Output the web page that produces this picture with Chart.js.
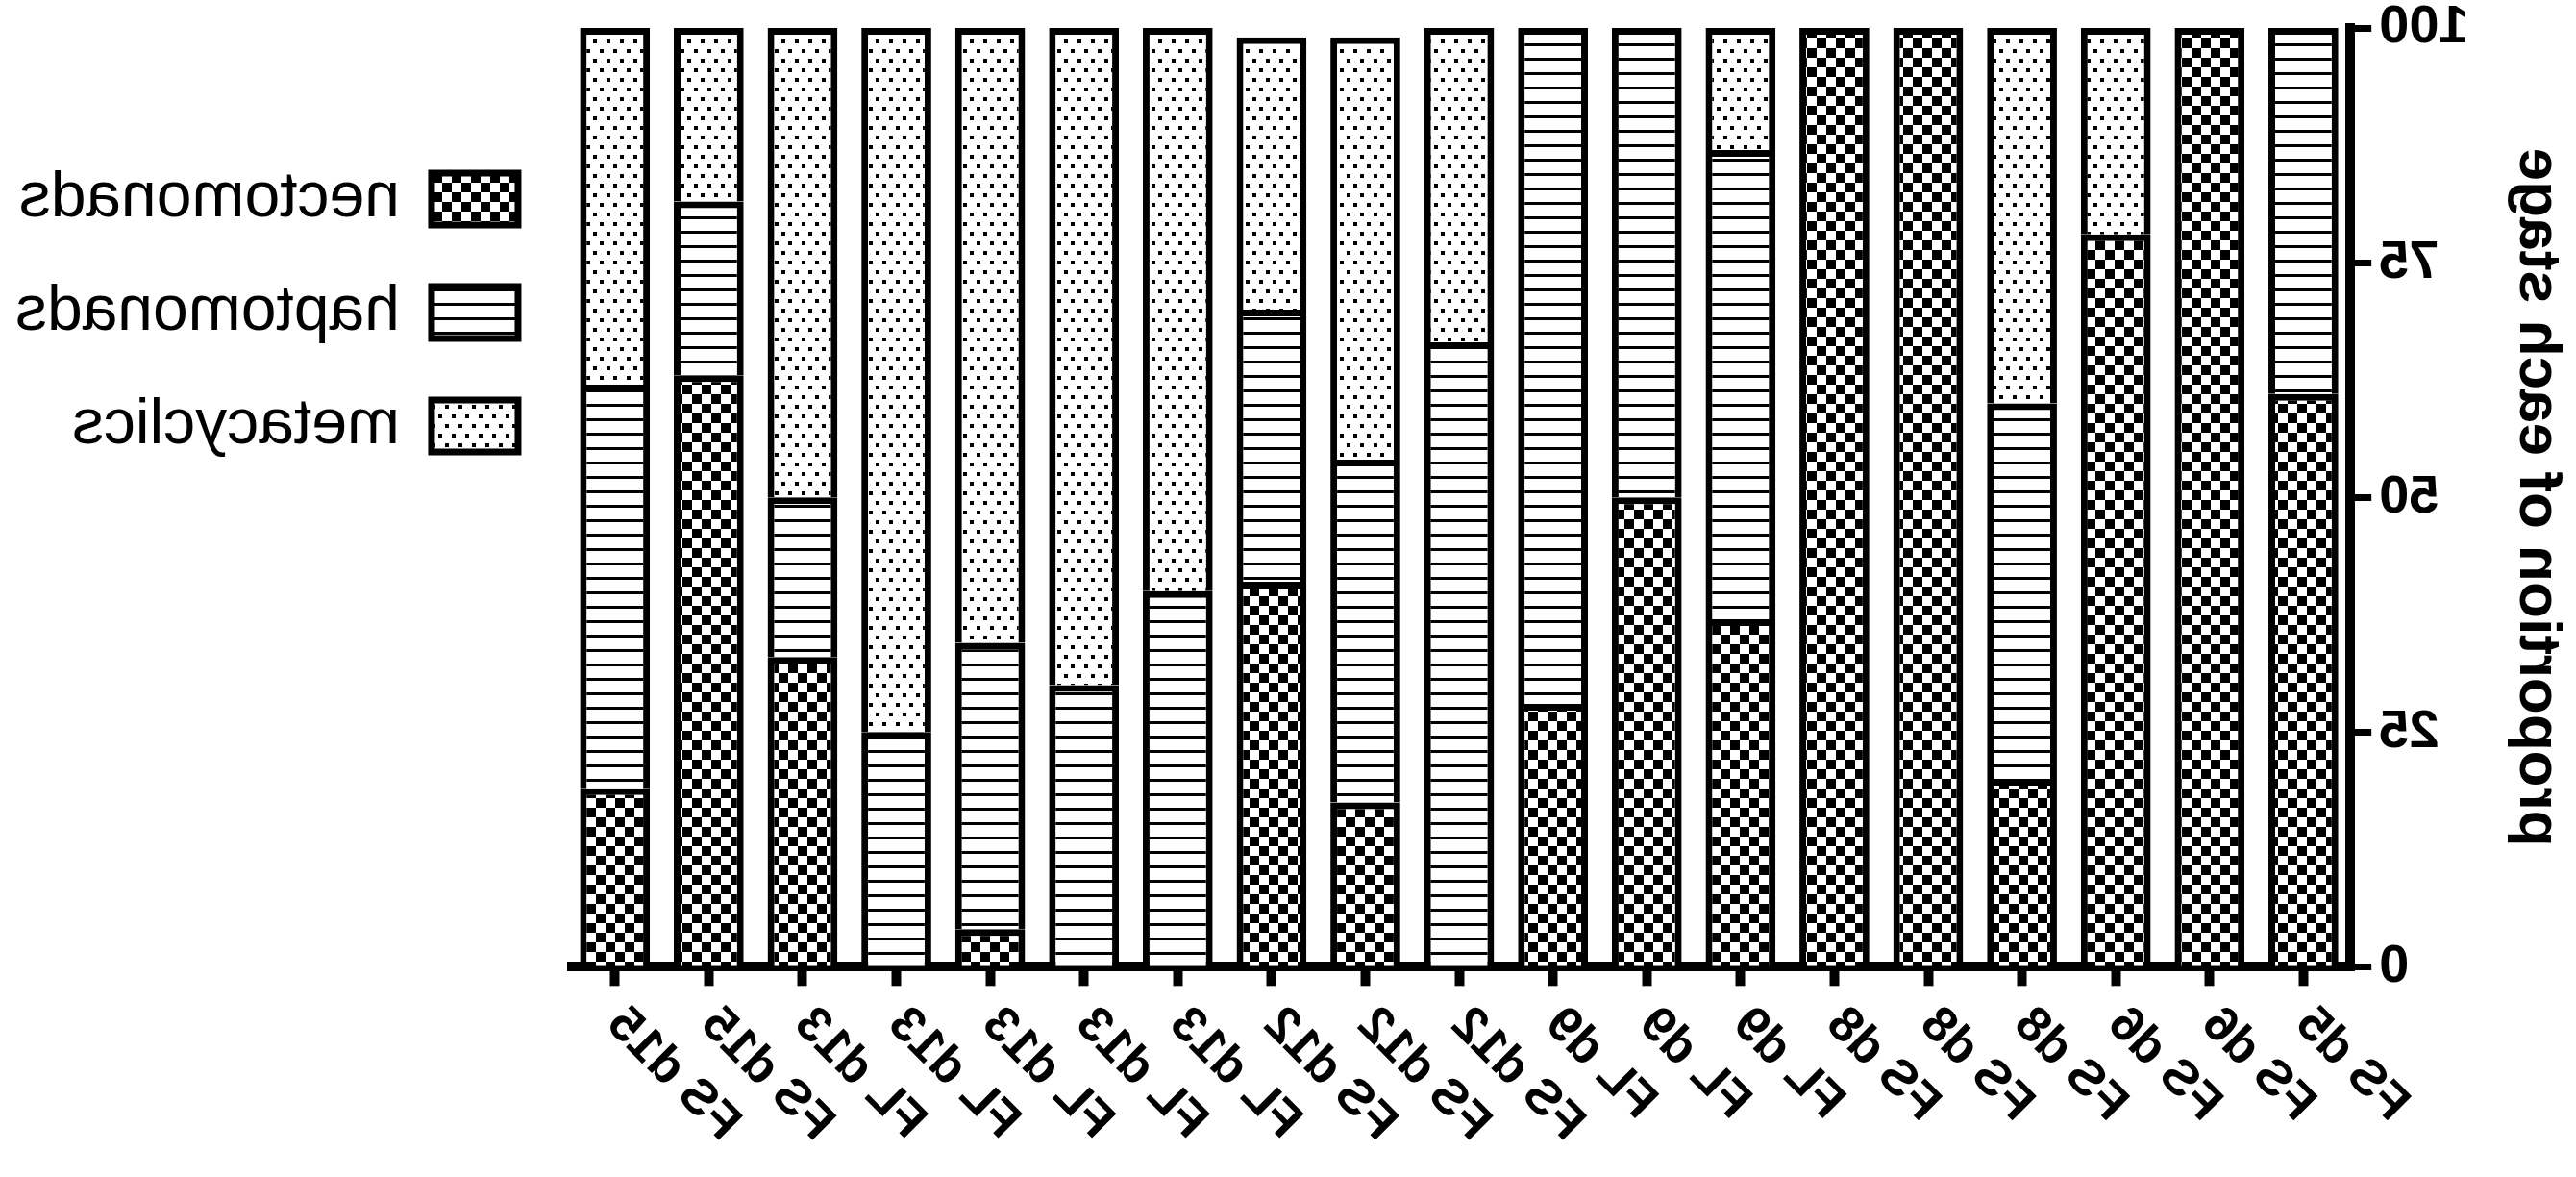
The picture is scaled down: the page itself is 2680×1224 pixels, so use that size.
<!DOCTYPE html>
<html>
<head>
<meta charset="utf-8">
<script src="https://cdn.jsdelivr.net/npm/chart.js@4.4.1/dist/chart.umd.min.js"></script>
<style>
  html, body { margin: 0; padding: 0; background: #fff; }
  #wrap { width: 2680px; height: 1224px; }
  /* the figure is a mirror image */
  #stageChart { transform: scaleX(-1); }
</style>
</head>
<body>
<div id="wrap"><canvas id="stageChart"></canvas></div>
<script>
var categories = ["FS d5", "FS d6", "FS d6", "FS d8", "FS d8", "FS d8", "FL d9", "FL d9", "FL d9",
                  "FS d12", "FS d12", "FS d12", "FL d13", "FL d13", "FL d13", "FL d13", "FL d13",
                  "FS d15", "FS d15"];
var nectomonads = [61, 100, 78, 20, 100, 100, 37, 50, 28, 0, 17.5, 41, 0, 0, 4, 0, 33, 63, 19];
var haptomonads = [39, 0, 0, 40, 0, 0, 50, 50, 72, 66.5, 36.5, 29, 40, 30, 30.5, 25, 17, 18.5, 43];
var metacyclics = [0, 0, 22, 40, 0, 0, 13, 0, 0, 33.5, 45, 29, 60, 70, 65.5, 75, 50, 18.5, 38];
var yTicks = [0, 25, 50, 75, 100];

var FONT = "'Liberation Sans', Arial, Helvetica, sans-serif";

// black and white fill patterns
function makePattern(kind) {
    var c = document.createElement('canvas');
    var g = c.getContext('2d');
    if (kind === 'checker') {
        c.width = 20; c.height = 20;
        g.fillStyle = '#fff'; g.fillRect(0, 0, 20, 20);
        g.fillStyle = '#000'; g.fillRect(0, 0, 10, 10); g.fillRect(10, 10, 10, 10);
    } else if (kind === 'lines') {
        c.width = 16; c.height = 15;
        g.fillStyle = '#fff'; g.fillRect(0, 0, 16, 15);
        g.fillStyle = '#000'; g.fillRect(0, 0, 16, 3);
    } else {
        c.width = 14; c.height = 20;
        g.fillStyle = '#fff'; g.fillRect(0, 0, 14, 20);
        g.fillStyle = '#000'; g.fillRect(1, 1, 4, 4); g.fillRect(8, 11, 4, 4);
    }
    return g.createPattern(c, 'repeat');
}

var barStyle = {
    borderColor: '#000',
    borderWidth: {top: 7, left: 7, right: 7, bottom: 0},
    borderSkipped: false,
    barPercentage: 0.745,
    categoryPercentage: 1.0
};

var ctx = document.getElementById("stageChart").getContext('2d');
var stageChart = new Chart(ctx, {
    type: 'bar',
    data: {
        labels: categories,
        datasets: [
            Object.assign({label: "nectomonads", data: nectomonads, backgroundColor: makePattern('checker')}, barStyle),
            Object.assign({label: "haptomonads", data: haptomonads, backgroundColor: makePattern('lines')}, barStyle),
            Object.assign({label: "metacyclics", data: metacyclics, backgroundColor: makePattern('dots')}, barStyle)
        ]
    },
    options: {
        responsive: true,
        maintainAspectRatio: false,
        animation: false,
        events: [],
        layout: { padding: {left: 0, right: 6, top: 0, bottom: 14} },
        scales: {
            x: {
                stacked: true,
                offset: true,
                grid: { display: true, offset: false, drawOnChartArea: false, drawTicks: true,
                        tickLength: 20, tickWidth: 10, tickColor: '#000' },
                border: { display: true, color: '#000', width: 10 },
                ticks: { autoSkip: false, minRotation: 45, maxRotation: 45, padding: 10, color: '#000',
                         font: { family: FONT, size: 52, weight: 'bold' } }
            },
            y: {
                stacked: true,
                min: 0,
                max: 100,
                afterBuildTicks: function(axis) {
                    axis.ticks = yTicks.map(function(v) { return {value: v}; });
                },
                grid: { display: true, drawOnChartArea: false, drawTicks: true,
                        tickLength: 22, tickWidth: 7, tickColor: '#000' },
                border: { display: true, color: '#000', width: 10 },
                ticks: { padding: 8, color: '#000', font: { family: FONT, size: 56, weight: 'bold', lineHeight: 0.75 } },
                title: {
                    display: true,
                    text: "proportion of each stage",
                    color: '#000',
                    padding: {top: 4, bottom: 25},
                    font: { family: FONT, size: 62, weight: 'bold' }
                }
            }
        },
        plugins: {
            tooltip: { enabled: false },
            legend: {
                display: true,
                position: 'right',
                align: 'start',
                title: { display: true, text: '', padding: {top: 110, bottom: 0}, font: { size: 10 } },
                labels: {
                    boxWidth: 90,
                    boxHeight: 54,
                    padding: 52,
                    color: '#000',
                    font: { family: FONT, size: 66 },
                    generateLabels: function(chart) {
                        var items = Chart.defaults.plugins.legend.labels.generateLabels(chart);
                        items.forEach(function(it) { it.lineWidth = 7; it.strokeStyle = '#000'; });
                        return items;
                    }
                }
            }
        }
    }
});
</script>
</body>
</html>
